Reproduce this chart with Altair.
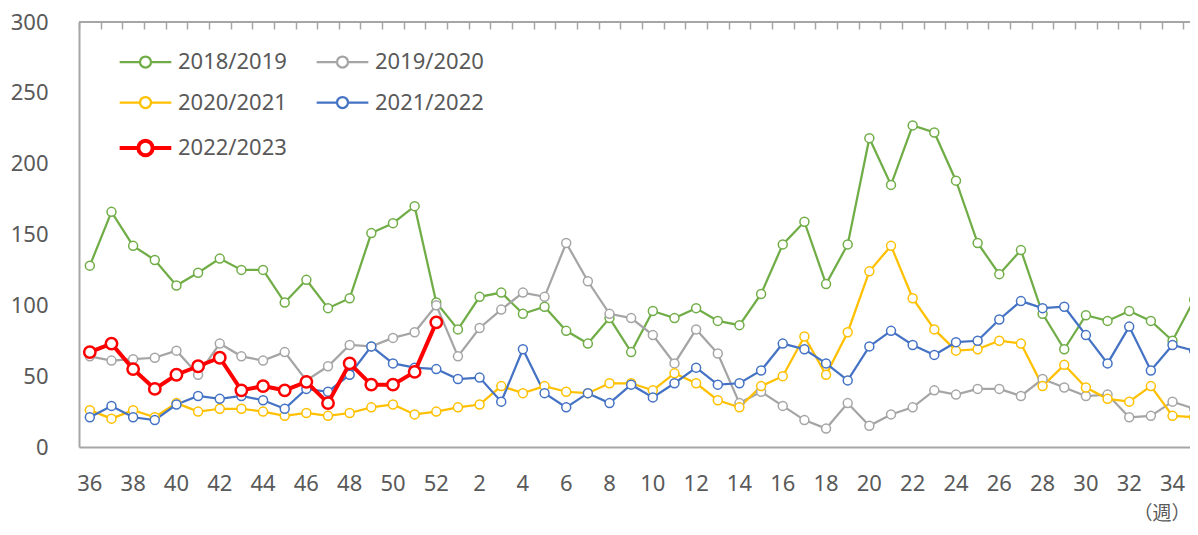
import altair as alt
import pandas as pd

weeks = [str(w) for w in list(range(36, 53)) + list(range(1, 36))]
series_names = ["2018/2019", "2019/2020", "2020/2021", "2021/2022", "2022/2023"]
colors = ["#70AD47", "#A5A5A5", "#FFC000", "#4472C4", "#FF0000"]
y_ticks = [0, 50, 100, 150, 200, 250, 300]

s2018 = [128, 166, 142, 132, 114, 123, 133, 125, 125, 102, 118, 98, 105, 151, 158, 170, 102,
         83, 106, 109, 94, 99, 82, 73, 91, 67, 96, 91, 98, 89, 86, 108, 143, 159, 115, 143,
         218, 185, 227, 222, 188, 144, 122, 139, 94, 69, 93, 89, 96, 89, 75, 104]
s2019 = [64, 61, 62, 63, 68, 51, 73, 64, 61, 67, 47, 57, 72, 71, 77, 81, 100,
         64, 84, 97, 109, 106, 144, 117, 94, 91, 79, 59, 83, 66, 31, 39, 29, 19, 13, 31,
         15, 23, 28, 40, 37, 41, 41, 36, 48, 42, 36, 37, 21, 22, 32, 27]
s2020 = [26, 20, 26, 21, 31, 25, 27, 27, 25, 22, 24, 22, 24, 28, 30, 23, 25,
         28, 30, 43, 38, 43, 39, 38, 45, 45, 40, 52, 45, 33, 28, 43, 50, 78, 51, 81,
         124, 142, 105, 83, 68, 69, 75, 73, 43, 58, 42, 34, 32, 43, 22, 21]
s2021 = [21, 29, 21, 19, 30, 36, 34, 36, 33, 27, 41, 39, 51, 71, 59, 56, 55,
         48, 49, 32, 69, 38, 28, 38, 31, 44, 35, 45, 56, 44, 45, 54, 73, 69, 59, 47,
         71, 82, 72, 65, 74, 75, 90, 103, 98, 99, 79, 59, 85, 54, 72, 68]
s2022 = [67, 73, 55, 41, 51, 57, 63, 40, 43, 40, 46, 31, 59, 44, 44, 53, 88]

rows = []
for name, vals in zip(series_names, [s2018, s2019, s2020, s2021, s2022]):
    for w, v in zip(weeks, vals):
        rows.append({"week": w, "series": name, "value": v})
df = pd.DataFrame(rows)
df_other = df[df["series"] != series_names[-1]]
df_red = df[df["series"] == series_names[-1]]

FONT = "Noto Sans"
TXT = "#595959"
AX = "#A6A6A6"

xscale = alt.Scale(type="band", domain=weeks, paddingInner=0, paddingOuter=0)
yscale = alt.Scale(domain=[0, 300], nice=False, zero=True)

x_main_axis = alt.Axis(
    title="（週）", titleX=1111, titleY=66, titleAlign="right", titleBaseline="middle",
    titleFont="Noto Sans CJK JP", titleFontSize=19, titleFontWeight="normal", titleColor=TXT,
    labelExpr="toNumber(datum.value) % 2 == 0 ? datum.label : ''",
    labelAngle=0, labelBaseline="alphabetic", labelPadding=43, labelOverlap=False,
    labelFont=FONT, labelFontSize=22, labelColor=TXT,
    ticks=False, tickSize=0, domainColor=AX, domainWidth=2, grid=False)
x_tick_axis = alt.Axis(
    title=None, labels=False, domain=False, ticks=True, tickSize=7, offset=-7,
    tickBand="extent", tickColor=AX, tickWidth=1.5, grid=False)
y_main_axis = alt.Axis(
    values=y_ticks, title=None, labelPadding=31, ticks=False, tickSize=0,
    labelFont=FONT, labelFontSize=22, labelColor=TXT, domainColor=AX, domainWidth=2, grid=False)
y_tick_axis = alt.Axis(
    values=y_ticks, title=None, labels=False, domain=False, tickSize=7, offset=-7,
    tickColor=AX, tickWidth=1.5, grid=False)

path_small = "M-4.7,0L-1,0M1,0L4.7,0M-1,0A1,1,0,1,1,1,0A1,1,0,1,1,-1,0Z"
path_big = "M-4.7,0L-1.3,0M1.3,0L4.7,0M-1.3,0A1.3,1.3,0,1,1,1.3,0A1.3,1.3,0,1,1,-1.3,0Z"

legend = alt.Legend(
    title=None, orient="none", legendX=55.5, legendY=29, columns=2, direction="horizontal",
    columnPadding=24, rowPadding=18.5, padding=0,
    labelFont=FONT, labelFontSize=22, labelColor=TXT, labelOffset=21.5,
    symbolSize=121,
    symbolType={"expr": "datum.value === '2022/2023' ? '" + path_big + "' : '" + path_small + "'"},
    symbolStrokeWidth={"expr": "datum.value === '2022/2023' ? 4 : 2.25"},
    symbolFillColor="white")

stroke_enc = alt.Stroke("series:N", scale=alt.Scale(domain=series_names, range=colors), legend=legend)

frame = alt.Chart(pd.DataFrame({"v": [300]})).mark_rule(color=AX, strokeWidth=2).encode(
    y=alt.Y("v:Q", scale=yscale, axis=None))

lines_other = alt.Chart(df_other).mark_line(strokeWidth=2.25).encode(
    x=alt.X("week:O", scale=xscale, axis=x_main_axis, sort=weeks),
    y=alt.Y("value:Q", scale=yscale, axis=y_main_axis),
    stroke=stroke_enc, detail="series:N")
points_other = alt.Chart(df_other).mark_point(shape="circle", fill="white", filled=False, opacity=1,
                                              size=80, strokeWidth=1.5).encode(
    x=alt.X("week:O", scale=xscale, axis=x_tick_axis, sort=weeks),
    y=alt.Y("value:Q", scale=yscale, axis=y_tick_axis),
    stroke=stroke_enc)
lines_red = alt.Chart(df_red).mark_line(strokeWidth=4).encode(
    x=alt.X("week:O", scale=xscale, axis=None, sort=weeks),
    y=alt.Y("value:Q", scale=yscale, axis=None),
    stroke=stroke_enc)
points_red = alt.Chart(df_red).mark_point(shape="circle", fill="white", filled=False, opacity=1,
                                          size=130, strokeWidth=2.5).encode(
    x=alt.X("week:O", scale=xscale, axis=None, sort=weeks),
    y=alt.Y("value:Q", scale=yscale, axis=None),
    stroke=stroke_enc)

chart = alt.layer(frame, lines_other, points_other, lines_red, points_red).resolve_axis(
    x="independent", y="independent"
).properties(
    width=1126, height=425,
    padding={"left": 71, "top": 14, "right": -15, "bottom": 76},
    autosize=alt.AutoSizeParams(type="none"),
    background="white",
).configure_view(stroke=None)

chart.save("out.html", embed_options={"renderer": "svg", "actions": False})
